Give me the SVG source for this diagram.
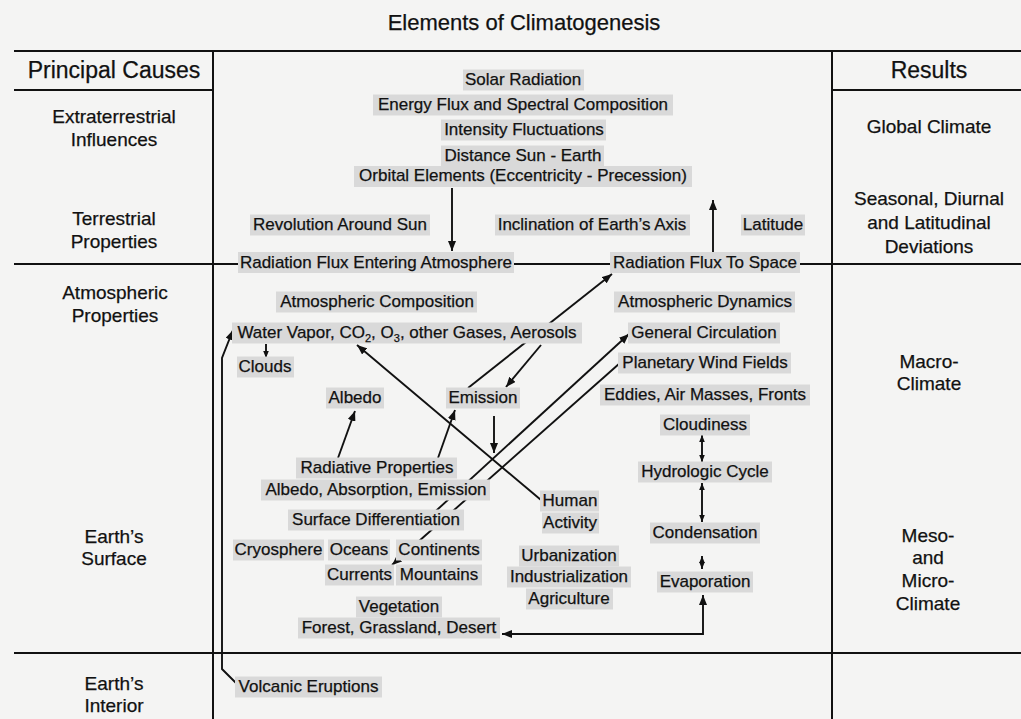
<svg xmlns="http://www.w3.org/2000/svg" width="1021" height="719" viewBox="0 0 1021 719">
<defs>
<style>
text{font-family:"Liberation Sans",Arial,Helvetica,sans-serif;fill:#111;stroke:#111;stroke-width:0.25;text-anchor:middle}
.t{font-size:17px}
.h{font-size:23px}
.s{font-size:19px}
.ttl{font-size:22px}
.sub{font-size:11px}
.b{fill:#d9d9d9}
.grid{stroke:#111;stroke-width:2;fill:none}
.c{stroke:#111;stroke-width:1.9;fill:none}
</style>
<marker id="ah" viewBox="0 0 10 8" refX="10" refY="4" markerWidth="10" markerHeight="8" markerUnits="userSpaceOnUse" orient="auto-start-reverse"><path d="M0,0L10,4L0,8z" fill="#111"/></marker>
<marker id="as" viewBox="0 0 10 8" refX="10" refY="4" markerWidth="7" markerHeight="7" markerUnits="userSpaceOnUse" orient="auto-start-reverse"><path d="M0,0L10,4L0,8z" fill="#111"/></marker>
</defs>
<rect width="1021" height="719" fill="#f4f4f3"/>
<text class="ttl" x="524" y="30">Elements of Climatogenesis</text>
<g id="table" class="grid">
<path d="M14,51H1021M14,90H213M832,90H1021M14,264H1021M14,653H1021M213,51V719M832,51V719"/>
</g>
<g id="connectors">
<path class="c" d="M452,188V251" marker-end="url(#ah)"/>
<path class="c" d="M713,253V200" marker-end="url(#ah)"/>
<path class="c" d="M237,684L222,669V358L233,330" marker-end="url(#ah)"/>
<path class="c" d="M266,344V358" marker-end="url(#as)"/>
<path class="c" d="M541,500L357,345" marker-end="url(#ah)"/>
<path class="c" d="M468,388L612,274" marker-end="url(#ah)"/>
<path class="c" d="M541,345L506,387" marker-end="url(#ah)"/>
<path class="c" d="M494,416V453" marker-end="url(#ah)"/>
<path class="c" d="M438,458L455,410" marker-end="url(#ah)"/>
<path class="c" d="M338,458L355,411" marker-end="url(#ah)"/>
<path class="c" d="M426,520L629,334" marker-end="url(#ah)"/>
<path class="c" d="M620,363L392,565" marker-end="url(#ah)"/>
<path class="c" d="M702,435V462" marker-start="url(#as)" marker-end="url(#as)"/>
<path class="c" d="M702,483V522" marker-start="url(#as)" marker-end="url(#as)"/>
<path class="c" d="M702,556V569" marker-start="url(#as)" marker-end="url(#as)"/>
<path class="c" d="M703,595V634H502" marker-start="url(#ah)" marker-end="url(#ah)"/>
</g>
<g id="causes">
<text class="h" x="114" y="78">Principal Causes</text>
<text class="s" x="114" y="123">Extraterrestrial</text><text class="s" x="114" y="146">Influences</text>
<text class="s" x="114" y="225">Terrestrial</text><text class="s" x="114" y="248">Properties</text>
<text class="s" x="115" y="299">Atmospheric</text><text class="s" x="115" y="322">Properties</text>
<text class="s" x="114" y="543">Earth’s</text><text class="s" x="114" y="565">Surface</text>
<text class="s" x="114" y="690">Earth’s</text><text class="s" x="114" y="712">Interior</text>
</g>
<g id="results">
<text class="h" x="929" y="78">Results</text>
<text class="s" x="929" y="133">Global Climate</text>
<text class="s" x="929" y="205">Seasonal, Diurnal</text><text class="s" x="929" y="229">and Latitudinal</text><text class="s" x="929" y="253">Deviations</text>
<text class="s" x="929" y="368">Macro-</text><text class="s" x="929" y="390">Climate</text>
<text class="s" x="928" y="542">Meso-</text><text class="s" x="928" y="564">and</text><text class="s" x="928" y="587">Micro-</text><text class="s" x="928" y="610">Climate</text>
</g>
<g id="solar">
<rect class="b" x="463" y="69.5" width="121" height="21"/><text class="t" x="523" y="85">Solar Radiation</text>
<rect class="b" x="373" y="94.5" width="300" height="21"/><text class="t" x="523" y="110">Energy Flux and Spectral Composition</text>
<rect class="b" x="441" y="119.5" width="165" height="21"/><text class="t" x="524" y="135">Intensity Fluctuations</text>
<rect class="b" x="441" y="145.5" width="163" height="21"/><text class="t" x="523" y="161">Distance Sun - Earth</text>
<rect class="b" x="354" y="166" width="338" height="21"/><text class="t" x="523" y="181">Orbital Elements (Eccentricity - Precession)</text>
</g>
<g id="revolution"><rect class="b" x="250" y="214.5" width="180" height="21"/><text class="t" x="340" y="230">Revolution Around Sun</text></g>
<g id="inclination"><rect class="b" x="495" y="214.5" width="195" height="21"/><text class="t" x="592" y="230">Inclination of Earth’s Axis</text></g>
<g id="latitude"><rect class="b" x="741" y="214.5" width="64" height="21"/><text class="t" x="773" y="230">Latitude</text></g>
<g id="flux-in"><rect class="b" x="238" y="252" width="276" height="21"/><text class="t" x="376" y="268">Radiation Flux Entering Atmosphere</text></g>
<g id="flux-out"><rect class="b" x="610" y="252" width="190" height="21"/><text class="t" x="705" y="268">Radiation Flux To Space</text></g>
<g id="atm-comp">
<rect class="b" x="276" y="291.5" width="201" height="21"/><text class="t" x="377" y="307">Atmospheric Composition</text>
<rect class="b" x="232" y="322.5" width="350" height="21"/><text class="t" x="407" y="338">Water Vapor, CO<tspan class="sub" dy="4">2</tspan><tspan dy="-4">, O</tspan><tspan class="sub" dy="4">3</tspan><tspan dy="-4">, other Gases, Aerosols</tspan></text>
</g>
<g id="clouds"><rect class="b" x="237" y="356.5" width="57" height="21"/><text class="t" x="265" y="372">Clouds</text></g>
<g id="albedo"><rect class="b" x="326" y="387.5" width="58" height="21"/><text class="t" x="355" y="403">Albedo</text></g>
<g id="emission"><rect class="b" x="446" y="387.5" width="74" height="21"/><text class="t" x="483" y="403">Emission</text></g>
<g id="radiative">
<rect class="b" x="296" y="457.5" width="161" height="21"/><text class="t" x="377" y="473">Radiative Properties</text>
<rect class="b" x="261" y="479.5" width="229" height="21"/><text class="t" x="376" y="495">Albedo, Absorption, Emission</text>
</g>
<g id="surface">
<rect class="b" x="288" y="509.5" width="176" height="21"/><text class="t" x="376" y="525">Surface Differentiation</text>
<rect class="b" x="233" y="539.5" width="91" height="21"/><text class="t" x="278.5" y="555">Cryosphere</text>
<rect class="b" x="328" y="539.5" width="62" height="21"/><text class="t" x="359" y="555">Oceans</text>
<rect class="b" x="396" y="539.5" width="86" height="21"/><text class="t" x="439" y="555">Continents</text>
<rect class="b" x="325" y="564.5" width="69" height="21"/><text class="t" x="359.5" y="580">Currents</text>
<rect class="b" x="396" y="564.5" width="86" height="21"/><text class="t" x="439" y="580">Mountains</text>
</g>
<g id="vegetation">
<rect class="b" x="356" y="596.5" width="86" height="21"/><text class="t" x="399" y="612">Vegetation</text>
<rect class="b" x="298" y="617.5" width="202" height="21"/><text class="t" x="399" y="633">Forest, Grassland, Desert</text>
</g>
<g id="volcanic"><rect class="b" x="235" y="676.5" width="147" height="21"/><text class="t" x="308.5" y="692">Volcanic Eruptions</text></g>
<g id="atm-dyn">
<rect class="b" x="614" y="291.5" width="181" height="21"/><text class="t" x="705" y="307">Atmospheric Dynamics</text>
<rect class="b" x="628" y="322.5" width="152" height="21"/><text class="t" x="704" y="338">General Circulation</text>
<rect class="b" x="618" y="352.5" width="173" height="21"/><text class="t" x="705" y="368">Planetary Wind Fields</text>
<rect class="b" x="600" y="384.5" width="210" height="21"/><text class="t" x="705" y="400">Eddies, Air Masses, Fronts</text>
</g>
<g id="cloudiness"><rect class="b" x="660" y="414.5" width="90" height="21"/><text class="t" x="705" y="430">Cloudiness</text></g>
<g id="hydrologic"><rect class="b" x="638" y="461.5" width="134" height="21"/><text class="t" x="705" y="477">Hydrologic Cycle</text></g>
<g id="condensation"><rect class="b" x="650" y="522.5" width="110" height="21"/><text class="t" x="705" y="538">Condensation</text></g>
<g id="evaporation"><rect class="b" x="657" y="571.5" width="96" height="21"/><text class="t" x="705" y="587">Evaporation</text></g>
<g id="human">
<rect class="b" x="540" y="490.5" width="59" height="21"/><text class="t" x="570" y="506">Human</text>
<rect class="b" x="542" y="512.5" width="57" height="21"/><text class="t" x="570" y="528">Activity</text>
</g>
<g id="human-kinds">
<rect class="b" x="519" y="545.5" width="100" height="21"/><text class="t" x="569" y="561">Urbanization</text>
<rect class="b" x="507" y="566.5" width="124" height="21"/><text class="t" x="569" y="582">Industrialization</text>
<rect class="b" x="526" y="588.5" width="87" height="21"/><text class="t" x="569" y="604">Agriculture</text>
</g>
</svg>
